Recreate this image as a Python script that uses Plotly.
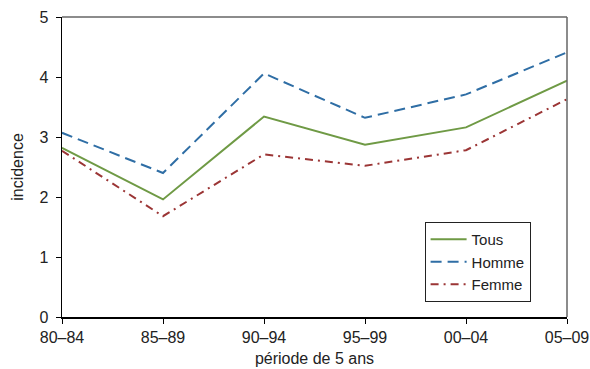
import plotly.graph_objects as go

periodes = ["80\u201384", "85\u201389", "90\u201394", "95\u201399", "00\u201304", "05\u201309"]
tous = [2.82, 1.96, 3.34, 2.87, 3.16, 3.94]
homme = [3.07, 2.40, 4.06, 3.32, 3.71, 4.41]
femme = [2.77, 1.68, 2.71, 2.52, 2.78, 3.63]

font_family = "Liberation Sans, Arial, sans-serif"

fig = go.Figure()
fig.add_trace(go.Scatter(x=list(range(len(periodes))), y=tous, mode="lines", name="Tous",
                         line=dict(color="#6f9a45", width=2, dash="solid")))
fig.add_trace(go.Scatter(x=list(range(len(periodes))), y=homme, mode="lines", name="Homme",
                         line=dict(color="#2f6ea5", width=2, dash="11px,6px")))
fig.add_trace(go.Scatter(x=list(range(len(periodes))), y=femme, mode="lines", name="Femme",
                         line=dict(color="#9b3535", width=2, dash="8px,5px,2px,5px")))

fig.update_layout(
    width=590, height=369,
    margin=dict(l=62, r=23, t=17, b=52, autoexpand=False),
    paper_bgcolor="white", plot_bgcolor="white",
    font=dict(family=font_family, size=16, color="#222"),
    showlegend=True,
    legend=dict(x=0.718, y=0.05, xanchor="left", yanchor="bottom",
                bordercolor="#222", borderwidth=1, bgcolor="white",
                font=dict(size=15), tracegroupgap=0, itemwidth=36),
    shapes=[
        dict(type="line", xref="paper", yref="paper", x0=0, x1=1, y0=1, y1=1,
             line=dict(color="#666", width=1.5)),
        dict(type="line", xref="paper", yref="paper", x0=1, x1=1, y0=0, y1=1,
             line=dict(color="#666", width=1.5)),
    ],
)
fig.update_xaxes(
    range=[0, len(periodes) - 1], tickmode="array",
    tickvals=list(range(len(periodes))), ticktext=periodes,
    showgrid=False, zeroline=False, showline=True, linecolor="black", linewidth=1.5,
    ticks="outside", ticklen=5, tickcolor="black",
    title=dict(text="période de 5 ans", font=dict(size=16), standoff=8),
)
fig.update_yaxes(
    range=[0, 5], tickvals=[0, 1, 2, 3, 4, 5],
    showgrid=False, zeroline=False, showline=True, linecolor="black", linewidth=1.5,
    ticks="outside", ticklen=5, tickcolor="black", ticklabelstandoff=4,
    title=dict(text="incidence", font=dict(size=16), standoff=12),
)

fig.write_html(
    "out.html",
    config={"displayModeBar": False, "staticPlot": True},
    post_script="document.body.style.margin='0';document.body.style.overflow='hidden';",
)
